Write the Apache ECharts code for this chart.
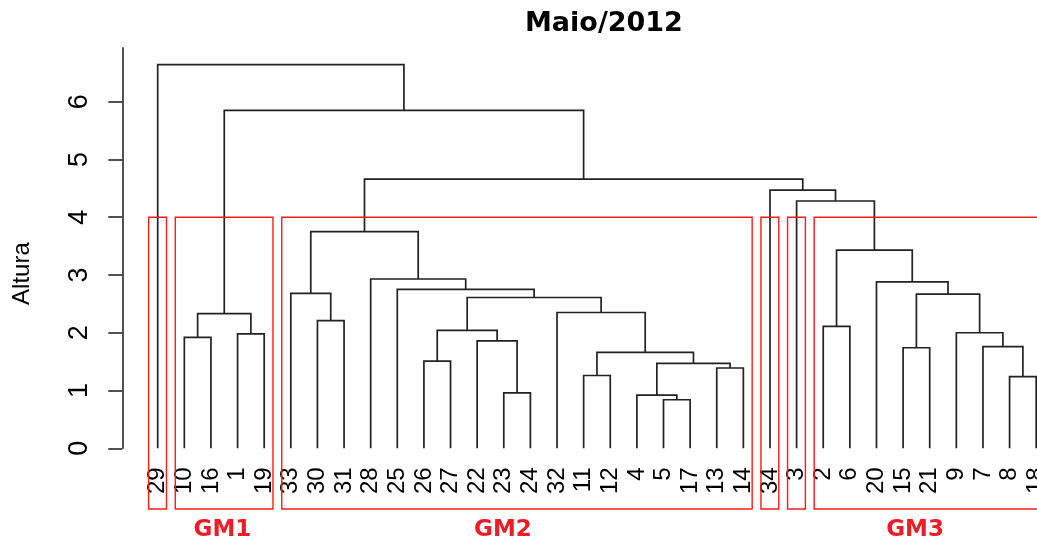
<!DOCTYPE html>
<html>
<head>
<meta charset="utf-8">
<title>Maio/2012</title>
<script src="https://cdn.jsdelivr.net/npm/echarts@6/dist/echarts.min.js"></script>
<style>
  html, body { margin: 0; padding: 0; background: #fff; }
  #chart { width: 1037px; height: 539px; }
</style>
</head>
<body>
<div id="chart"></div>
<script>
// Leaf labels in the order they appear along the dendrogram
const leafOrder = ['29', '10', '16', '1', '19', '33', '30', '31', '28', '25', '26', '27',
  '22', '23', '24', '32', '11', '12', '4', '5', '17', '13', '14', '34', '3', '2', '6',
  '20', '15', '21', '9', '7', '8', '18'];

// Agglomeration steps (hclust-style: negative = observation, positive = earlier step)
const merges = [
  [-5, -17], [-4, 1], [-23, -24], [-8, -18], [-11, -12], [-13, -14], [2, 6],
  [-26, -27], [5, 7], [-15, -21], [-7, 4], [-22, 3], [-10, -16], [-1, -19],
  [-9, 11], [8, 12], [-2, -6], [-30, -31], [13, 14], [-32, 9], [16, 20],
  [10, 15], [-33, 18], [-25, 21], [-20, 22], [-28, 24], [17, 25], [23, 26],
  [-3, 27], [-34, 29], [28, 30], [19, 31], [-29, 32]
];

// Height (Altura) at which each step joins its two branches
const heights = [0.84, 0.92, 0.96, 1.24, 1.26, 1.39, 1.47, 1.51, 1.66, 1.74, 1.76,
  1.86, 1.92, 1.98, 2.00, 2.04, 2.11, 2.21, 2.33, 2.35, 2.61, 2.67, 2.68, 2.75,
  2.88, 2.93, 3.43, 3.75, 4.28, 4.47, 4.66, 5.85, 6.64];

// Y-axis tick values
const yTicks = [0, 1, 2, 3, 4, 5, 6];

// Clusters cut from the tree: number of leaves in each, in leaf order
const groupSizes = [1, 4, 18, 1, 1, 9];
const groupNames = ['', 'GM1', 'GM2', '', '', 'GM3'];
const cutHeight = 4;

// ---- layout of the annotations (leaf-index units / axis units) ----
const groupNameAt = [null, 2.43, 12.97, null, null, 28.45];
const groupNameY = -1.42;
const boxBottom = -1.05;   // lower edge of the plotting region

// Build the link segments from the merge table
const leafIndex = {};
leafOrder.forEach((l, i) => { leafIndex[l] = i; });
const nodeX = [];
const links = [];
merges.forEach((m, i) => {
  const ends = m.map(c => c < 0
    ? { x: leafIndex[String(-c)], h: 0 }
    : { x: nodeX[c - 1], h: heights[c - 1] });
  nodeX[i] = (ends[0].x + ends[1].x) / 2;
  links.push([ends[0].x, ends[0].h, ends[1].x, ends[1].h, heights[i]]);
});

// Cluster boxes (rect.hclust convention: 0.66 / 0.33 leaf offsets)
const boxes = [];
let start = 0;
groupSizes.forEach((n, i) => {
  const end = start + n - 1;
  boxes.push([start - 0.34, end + 0.33, cutHeight, boxBottom,
    groupNameAt[i] == null ? 0 : groupNameAt[i], i]);
  start += n;
});

const axisColor = '#262626';
const sans = "'Liberation Sans', Arial, sans-serif";

const chart = echarts.init(document.getElementById('chart'));
chart.setOption({
  animation: false,
  backgroundColor: '#fff',
  title: {
    text: 'Maio/2012',
    left: 525,
    top: 10,
    padding: 0,
    textStyle: {
      fontFamily: "'DejaVu Sans', sans-serif",
      fontWeight: 'bold',
      fontSize: 27,
      color: '#000'
    }
  },
  grid: {
    left: 122.3, right: 0.8, top: 47.9, bottom: 90.7,
    containLabel: false,
    outerBoundsMode: 'none'
  },
  xAxis: {
    type: 'value',
    min: -1.33,
    max: leafOrder.length - 1,
    axisLine: { show: false, onZero: false },
    axisTick: { show: false },
    splitLine: { show: false },
    axisLabel: {
      customValues: leafOrder.map((_, i) => i),
      formatter: v => leafOrder[Math.round(v)],
      showMinLabel: true,
      showMaxLabel: true,
      hideOverlap: false,
      rotate: 90,
      margin: 19,
      color: '#000',
      fontFamily: sans,
      fontSize: 24
    }
  },
  yAxis: {
    type: 'value',
    min: 0,
    max: 6.93,
    name: 'Altura',
    nameLocation: 'middle',
    nameGap: 88,
    nameRotate: 90,
    nameTextStyle: {
      fontFamily: sans,
      fontSize: 24,
      color: '#000',
      padding: [0, 51, 0, 0]
    },
    axisLine: { show: true, onZero: false, lineStyle: { color: axisColor, width: 1.6 } },
    axisTick: { show: true, customValues: yTicks, length: 14, lineStyle: { color: axisColor, width: 1.6 } },
    splitLine: { show: false },
    axisLabel: {
      customValues: yTicks,
      showMinLabel: true,
      showMaxLabel: true,
      rotate: 90,
      margin: 29,
      color: '#000',
      fontFamily: sans,
      fontSize: 27
    }
  },
  series: [
    {
      type: 'custom',
      name: 'dendrogram',
      clip: false,
      data: links,
      encode: { x: [0, 2], y: [1, 3, 4] },
      renderItem: (params, api) => {
        const x1 = api.value(0), h1 = api.value(1);
        const x2 = api.value(2), h2 = api.value(3), h = api.value(4);
        return {
          type: 'polyline',
          shape: { points: [api.coord([x1, h1]), api.coord([x1, h]), api.coord([x2, h]), api.coord([x2, h2])] },
          style: { stroke: '#222', lineWidth: 1.7, fill: null }
        };
      },
      z: 2
    },
    {
      type: 'custom',
      name: 'grupos',
      clip: false,
      data: boxes,
      encode: { x: [0, 1], y: [2, 3] },
      renderItem: (params, api) => {
        const p1 = api.coord([api.value(0), api.value(2)]);
        const p2 = api.coord([api.value(1), api.value(3)]);
        const children = [{
          type: 'rect',
          shape: { x: p1[0], y: p1[1], width: p2[0] - p1[0], height: p2[1] - p1[1] },
          style: { stroke: '#ff1a1a', lineWidth: 1.4, fill: null }
        }];
        const name = groupNames[api.value(5)];
        if (name) {
          const t = api.coord([api.value(4), groupNameY]);
          children.push({
            type: 'text',
            x: t[0], y: t[1],
            style: {
              text: name, fill: '#ee1c25',
              fontFamily: "'DejaVu Sans', sans-serif", fontWeight: 'bold', fontSize: 23,
              align: 'center', verticalAlign: 'middle'
            }
          });
        }
        return { type: 'group', children };
      },
      z: 3
    }
  ]
});
</script>
</body>
</html>
